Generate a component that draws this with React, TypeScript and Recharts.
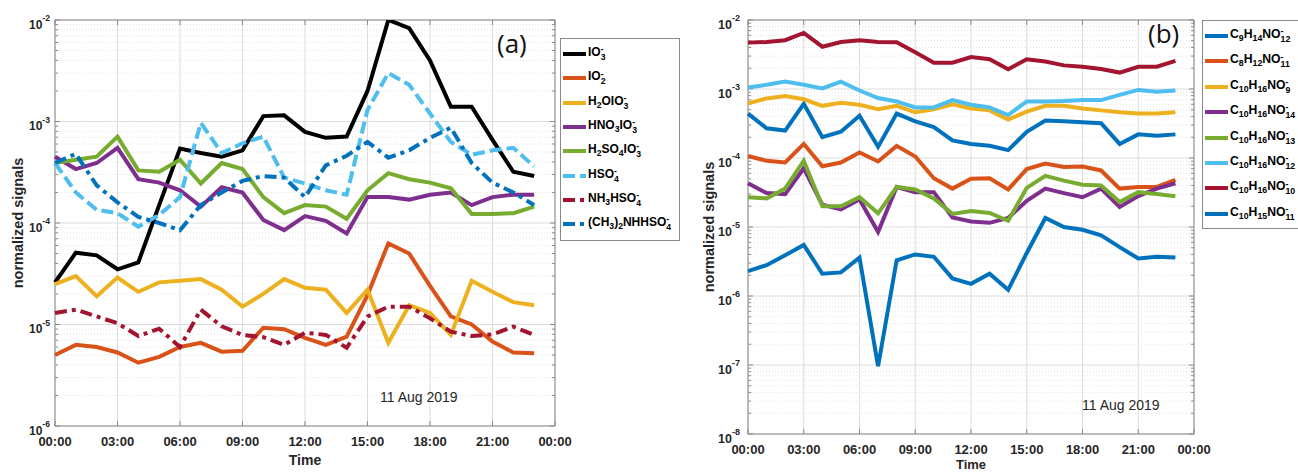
import React from "react";
import {
  LineChart,
  Line,
  XAxis,
  YAxis,
  CartesianGrid,
  ReferenceLine,
  ReferenceArea,
} from "recharts";

const hours = [0, 1, 2, 3, 4, 5, 6, 7, 8, 9, 10, 11, 12, 13, 14, 15, 16, 17, 18, 19, 20, 21, 22, 23];
const timeTicks = [0, 3, 6, 9, 12, 15, 18, 21, 24];

// panel (a)
const io3 = [2.6e-5, 5.1e-5, 4.8e-5, 3.5e-5, 4.1e-5, 1.5e-4, 5.4e-4, 4.9e-4, 4.5e-4, 5.2e-4, 1.13e-3, 1.15e-3, 7.9e-4, 6.9e-4, 7.1e-4, 2.0e-3, 1.0e-2, 8.3e-3, 4.0e-3, 1.4e-3, 1.4e-3, 6.6e-4, 3.2e-4, 2.9e-4];
const io2 = [5.0e-6, 6.3e-6, 6.0e-6, 5.3e-6, 4.2e-6, 4.8e-6, 6.0e-6, 6.6e-6, 5.4e-6, 5.5e-6, 9.3e-6, 9.0e-6, 7.4e-6, 6.3e-6, 7.6e-6, 1.95e-5, 6.3e-5, 5.0e-5, 2.4e-5, 1.2e-5, 1.0e-5, 6.8e-6, 5.3e-6, 5.2e-6];
const h2oio3 = [2.5e-5, 3.0e-5, 1.9e-5, 2.9e-5, 2.1e-5, 2.6e-5, 2.7e-5, 2.8e-5, 2.2e-5, 1.5e-5, 2.0e-5, 2.8e-5, 2.3e-5, 2.2e-5, 1.3e-5, 2.2e-5, 6.6e-6, 1.55e-5, 1.3e-5, 7.9e-6, 2.7e-5, 2.1e-5, 1.66e-5, 1.55e-5];
const hno3io3 = [4.5e-4, 3.4e-4, 3.9e-4, 5.5e-4, 2.7e-4, 2.5e-4, 2.1e-4, 1.45e-4, 2.25e-4, 2.0e-4, 1.07e-4, 8.5e-5, 1.17e-4, 1.05e-4, 7.9e-5, 1.8e-4, 1.8e-4, 1.7e-4, 1.9e-4, 2.0e-4, 1.5e-4, 1.8e-4, 1.9e-4, 1.9e-4];
const h2so4io3 = [3.9e-4, 4.2e-4, 4.5e-4, 7.1e-4, 3.3e-4, 3.2e-4, 4.2e-4, 2.45e-4, 3.9e-4, 3.4e-4, 1.8e-4, 1.25e-4, 1.5e-4, 1.45e-4, 1.1e-4, 2.1e-4, 3.1e-4, 2.7e-4, 2.5e-4, 2.2e-4, 1.23e-4, 1.23e-4, 1.25e-4, 1.45e-4];
const hso4 = [3.9e-4, 2.0e-4, 1.35e-4, 1.25e-4, 9.2e-5, 1.2e-4, 1.8e-4, 9.7e-4, 4.9e-4, 6.1e-4, 7.1e-4, 2.8e-4, 2.45e-4, 2.1e-4, 1.9e-4, 1.3e-3, 3.0e-3, 2.3e-3, 1.2e-3, 6.3e-4, 4.7e-4, 5.2e-4, 5.5e-4, 3.6e-4];
const nh3hso4 = [1.3e-5, 1.4e-5, 1.2e-5, 1.03e-5, 7.7e-6, 9.1e-6, 6.0e-6, 1.4e-5, 9.6e-6, 7.9e-6, 7.5e-6, 6.3e-6, 8.3e-6, 7.9e-6, 5.9e-6, 1.2e-5, 1.5e-5, 1.5e-5, 1.15e-5, 8.5e-6, 7.7e-6, 8.0e-6, 9.5e-6, 7.9e-6];
const dmahso4 = [3.9e-4, 4.8e-4, 2.35e-4, 1.6e-4, 1.15e-4, 1.0e-4, 8.5e-5, 1.5e-4, 2.0e-4, 2.6e-4, 2.9e-4, 2.8e-4, 1.8e-4, 3.7e-4, 4.6e-4, 6.3e-4, 4.4e-4, 5.2e-4, 6.9e-4, 8.7e-4, 3.9e-4, 2.5e-4, 2.0e-4, 1.5e-4];

// panel (b)
const c9h14no12 = [4.4e-4, 2.7e-4, 2.5e-4, 6.1e-4, 2.0e-4, 2.4e-4, 4.1e-4, 1.45e-4, 4.4e-4, 3.4e-4, 2.8e-4, 1.8e-4, 1.6e-4, 1.5e-4, 1.3e-4, 2.4e-4, 3.5e-4, 3.4e-4, 3.3e-4, 3.2e-4, 1.6e-4, 2.2e-4, 2.1e-4, 2.2e-4];
const c8h12no11 = [1.07e-4, 9.1e-5, 8.6e-5, 1.6e-4, 7.6e-5, 8.6e-5, 1.2e-4, 8.9e-5, 1.5e-4, 1.05e-4, 5.1e-5, 3.6e-5, 5.0e-5, 5.1e-5, 3.5e-5, 6.9e-5, 8.3e-5, 7.4e-5, 7.5e-5, 6.6e-5, 3.6e-5, 3.8e-5, 3.8e-5, 4.8e-5];
const c10h16no9 = [6.2e-4, 7.3e-4, 7.9e-4, 7.1e-4, 5.7e-4, 6.3e-4, 5.9e-4, 5.1e-4, 5.7e-4, 4.6e-4, 5.1e-4, 6.0e-4, 5.2e-4, 4.9e-4, 3.6e-4, 4.7e-4, 5.7e-4, 5.7e-4, 5.2e-4, 4.9e-4, 4.6e-4, 4.4e-4, 4.4e-4, 4.6e-4];
const c10h16no14 = [4.3e-5, 3.1e-5, 3.0e-5, 7.1e-5, 2.1e-5, 1.8e-5, 2.5e-5, 8.5e-6, 3.8e-5, 3.2e-5, 3.2e-5, 1.38e-5, 1.2e-5, 1.15e-5, 1.35e-5, 2.4e-5, 3.6e-5, 3.1e-5, 2.7e-5, 3.6e-5, 1.95e-5, 2.8e-5, 3.6e-5, 4.3e-5];
const c10h16no13 = [2.7e-5, 2.6e-5, 3.6e-5, 9.1e-5, 2.0e-5, 2.0e-5, 2.7e-5, 1.58e-5, 3.8e-5, 3.5e-5, 2.6e-5, 1.55e-5, 1.7e-5, 1.6e-5, 1.23e-5, 3.7e-5, 5.5e-5, 4.7e-5, 4.1e-5, 4.0e-5, 2.3e-5, 3.2e-5, 3.0e-5, 2.8e-5];
const c10h16no12 = [1.05e-3, 1.15e-3, 1.28e-3, 1.15e-3, 1.02e-3, 1.28e-3, 9.5e-4, 7.4e-4, 6.6e-4, 5.4e-4, 5.4e-4, 6.9e-4, 5.9e-4, 5.4e-4, 4.2e-4, 6.6e-4, 6.6e-4, 6.7e-4, 6.9e-4, 6.9e-4, 8.2e-4, 9.7e-4, 9.1e-4, 9.5e-4];
const c10h16no10 = [4.7e-3, 4.8e-3, 5.1e-3, 6.5e-3, 4.1e-3, 4.8e-3, 5.1e-3, 4.8e-3, 4.75e-3, 3.4e-3, 2.4e-3, 2.4e-3, 2.9e-3, 2.7e-3, 1.93e-3, 2.7e-3, 2.5e-3, 2.2e-3, 2.1e-3, 1.95e-3, 1.73e-3, 2.1e-3, 2.1e-3, 2.55e-3];
const c10h15no11 = [2.3e-6, 2.8e-6, 3.9e-6, 5.5e-6, 2.1e-6, 2.2e-6, 3.6e-6, 9.6e-8, 3.3e-6, 4.0e-6, 3.7e-6, 1.8e-6, 1.5e-6, 2.1e-6, 1.23e-6, 4.2e-6, 1.35e-5, 1.0e-5, 9.1e-6, 7.6e-6, 5.1e-6, 3.5e-6, 3.7e-6, 3.6e-6];

const decadesA = [1e-6, 1e-5, 1e-4, 1e-3, 1e-2];
const decadesB = [1e-8, 1e-7, 1e-6, 1e-5, 1e-4, 1e-3, 1e-2];

const FONT = "'Liberation Sans', Arial, Helvetica, sans-serif";
const TXT = "#262626";
const AXIS = "#8a8a8a";
const DASH = "12 5";
const DASHDOT = "12 5 4 5";

const seriesA = [
  { key: "io3", values: io3, label: "IO_3^-", color: "#000000" },
  { key: "io2", values: io2, label: "IO_2^-", color: "#D95319" },
  { key: "h2oio3", values: h2oio3, label: "H_2OIO_3^-", color: "#EDB120" },
  { key: "hno3io3", values: hno3io3, label: "HNO_3IO_3^-", color: "#7E2F8E" },
  { key: "h2so4io3", values: h2so4io3, label: "H_2SO_4IO_3^-", color: "#77AC30" },
  { key: "hso4", values: hso4, label: "HSO_4^-", color: "#4DBEEE", dash: DASH },
  { key: "nh3hso4", values: nh3hso4, label: "NH_3HSO_4^-", color: "#A2142F", dash: DASHDOT },
  { key: "dmahso4", values: dmahso4, label: "(CH_3)_2NHHSO_4^-", color: "#0072BD", dash: DASHDOT },
];

const seriesB = [
  { key: "c9h14no12", values: c9h14no12, label: "C_9H_{14}NO_{12}^-", color: "#0072BD" },
  { key: "c8h12no11", values: c8h12no11, label: "C_8H_{12}NO_{11}^-", color: "#D95319" },
  { key: "c10h16no9", values: c10h16no9, label: "C_{10}H_{16}NO_9^-", color: "#EDB120" },
  { key: "c10h16no14", values: c10h16no14, label: "C_{10}H_{16}NO_{14}^-", color: "#7E2F8E" },
  { key: "c10h16no13", values: c10h16no13, label: "C_{10}H_{16}NO_{13}^-", color: "#77AC30" },
  { key: "c10h16no12", values: c10h16no12, label: "C_{10}H_{16}NO_{12}^-", color: "#4DBEEE" },
  { key: "c10h16no10", values: c10h16no10, label: "C_{10}H_{16}NO_{10}^-", color: "#A2142F" },
  { key: "c10h15no11", values: c10h15no11, label: "C_{10}H_{15}NO_{11}^-", color: "#0072BD" },
];

type Series = { key: string; values: number[]; label: string; color: string; dash?: string };

function buildRows(series: Series[]) {
  return hours.map((h, i) => {
    const row: Record<string, number> = { h };
    series.forEach((s) => (row[s.key] = s.values[i]));
    return row;
  });
}

const minorOf = (decades: number[]) =>
  decades.slice(0, -1).flatMap((d) => [2, 3, 4, 5, 6, 7, 8, 9].map((m) => m * d));

const fmtTime = (h: number) => String(h % 24).padStart(2, "0") + ":00";

// tex-like label: "IO_3^-" -> IO with stacked sub 3 / sup -
type Seg = { t?: string; sub?: string; sup?: string };
function parseTex(s: string): Seg[] {
  const out: Seg[] = [];
  let i = 0;
  let buf = "";
  const arg = () => {
    if (s[i] === "{") {
      const j = s.indexOf("}", i);
      const a = s.slice(i + 1, j);
      i = j + 1;
      return a;
    }
    return s[i++];
  };
  while (i < s.length) {
    const c = s[i];
    if (c === "_" || c === "^") {
      if (buf) out.push({ t: buf });
      buf = "";
      i++;
      const seg: Seg = {};
      if (c === "_") seg.sub = arg();
      else seg.sup = arg();
      if (c === "_" && s[i] === "^") {
        i++;
        seg.sup = arg();
      } else if (c === "^" && s[i] === "_") {
        i++;
        seg.sub = arg();
      }
      out.push(seg);
    } else {
      buf += c;
      i++;
    }
  }
  if (buf) out.push({ t: buf });
  return out;
}

function Tex({ s }: { s: string }) {
  return (
    <>
      {parseTex(s).map((seg, i) => {
        if (seg.t) return <span key={i}>{seg.t}</span>;
        if (seg.sub && seg.sup)
          return (
            <span
              key={i}
              style={{
                display: "inline-flex",
                flexDirection: "column",
                fontSize: "0.72em",
                lineHeight: "0.9em",
                verticalAlign: "0.45em",
              }}
            >
              <span>{seg.sup}</span>
              <span>{seg.sub}</span>
            </span>
          );
        if (seg.sub)
          return (
            <span key={i} style={{ fontSize: "0.72em", verticalAlign: "-0.35em" }}>
              {seg.sub}
            </span>
          );
        return (
          <span key={i} style={{ fontSize: "0.72em", verticalAlign: "0.55em" }}>
            {seg.sup}
          </span>
        );
      })}
    </>
  );
}

const YTick = (props: any) => {
  const { x, y, payload, fs } = props;
  const e = Math.round(Math.log10(payload.value));
  return (
    <text x={x} y={y} textAnchor="end" fontFamily={FONT} fontWeight="bold" fill={TXT} fontSize={fs}>
      <tspan dy={8.5}>10</tspan>
      <tspan dy={-7.5} fontSize={fs * 0.72}>
        {e}
      </tspan>
    </text>
  );
};

const XTick = (props: any) => {
  const { x, y, payload, dy, fs } = props;
  return (
    <text x={x} y={y + dy} textAnchor="middle" fontFamily={FONT} fontWeight="bold" fill={TXT} fontSize={fs}>
      {fmtTime(payload.value)}
    </text>
  );
};

function Panel({
  series,
  decades,
  width,
  xAxisH,
  yAxisW,
  right,
  yFs,
  xFs,
  xDy,
  yTickGap,
  yTitleOffset,
  timeOffset,
  timeFs,
  pxHour,
  pxDecade,
}: {
  series: Series[];
  decades: number[];
  width: number;
  xAxisH: number;
  yAxisW: number;
  right: number;
  yFs: number;
  xFs: number;
  xDy: number;
  yTickGap: number;
  yTitleOffset: number;
  timeOffset: number;
  timeFs: number;
  pxHour: number;
  pxDecade: number;
}) {
  const rows = buildRows(series);
  const lo = decades[0];
  const hi = decades[decades.length - 1];
  const minor = minorOf(decades);
  // inward tick marks (box on, MATLAB style)
  const hLen = (px: number) => px / pxHour;
  const vFac = (px: number) => Math.pow(10, px / pxDecade);
  const yMarks = [
    ...decades.map((v) => ({ v, len: 5 })),
    ...minor.map((v) => ({ v, len: 3 })),
  ];
  return (
    <LineChart width={width} height={472} data={rows} margin={{ top: 20, right, bottom: 0, left: 0 }}>
      <CartesianGrid stroke="#dcdcdc" strokeWidth={1} />
      {minor.map((v) => (
        <ReferenceLine key={v} y={v} stroke="#e4e4e4" strokeDasharray="1 2" />
      ))}
      <XAxis
        dataKey="h"
        type="number"
        domain={[0, 24]}
        ticks={timeTicks}
        height={xAxisH}
        axisLine={false}
        tickLine={false}
        tick={<XTick dy={xDy} fs={xFs} />}
        label={{
          value: "Time",
          position: "insideBottom",
          offset: timeOffset,
          fontFamily: FONT,
          fontWeight: "bold",
          fontSize: timeFs,
          fill: TXT,
        }}
      />
      <YAxis
        scale="log"
        type="number"
        domain={[lo, hi]}
        ticks={decades}
        allowDataOverflow
        width={yAxisW}
        axisLine={false}
        tickLine={false}
        tickSize={yTickGap}
        tickMargin={0}
        tick={<YTick fs={yFs} />}
        label={{
          value: "normalized signals",
          angle: -90,
          position: "insideLeft",
          offset: yTitleOffset,
          fontFamily: FONT,
          fontWeight: "bold",
          fontSize: 14.5,
          fill: TXT,
          style: { textAnchor: "middle" },
        }}
      />
      {yMarks.map(({ v, len }) => (
        <ReferenceLine
          key={"l" + v}
          segment={[
            { x: 0, y: v },
            { x: hLen(len), y: v },
          ]}
          stroke={AXIS}
        />
      ))}
      {yMarks.map(({ v, len }) => (
        <ReferenceLine
          key={"r" + v}
          segment={[
            { x: 24 - hLen(len), y: v },
            { x: 24, y: v },
          ]}
          stroke={AXIS}
        />
      ))}
      {timeTicks.map((t) => (
        <ReferenceLine
          key={"b" + t}
          segment={[
            { x: t, y: lo },
            { x: t, y: lo * vFac(5) },
          ]}
          stroke={AXIS}
        />
      ))}
      {timeTicks.map((t) => (
        <ReferenceLine
          key={"t" + t}
          segment={[
            { x: t, y: hi / vFac(5) },
            { x: t, y: hi },
          ]}
          stroke={AXIS}
        />
      ))}
      <ReferenceArea x1={0} x2={24} y1={lo} y2={hi} fill="none" stroke={AXIS} strokeWidth={1} />
      {series.map((s) => (
        <Line
          key={s.key}
          type="linear"
          dataKey={s.key}
          stroke={s.color}
          strokeWidth={4}
          strokeDasharray={s.dash}
          dot={false}
          activeDot={false}
          isAnimationActive={false}
        />
      ))}
    </LineChart>
  );
}

function LegendBox({
  series,
  left,
  top,
  width,
  height,
  rowTop,
  rowH,
  fs,
}: {
  series: Series[];
  left: number;
  top: number;
  width: number;
  height: number;
  rowTop: number;
  rowH: number;
  fs: number;
}) {
  return (
    <div
      style={{
        position: "absolute",
        left,
        top,
        width,
        height,
        border: "1px solid " + AXIS,
        background: "#fff",
        boxSizing: "border-box",
        fontFamily: FONT,
        fontWeight: "bold",
        fontSize: fs,
        color: "#000",
      }}
    >
      {series.map((s, i) => (
        <div
          key={s.key}
          style={{
            position: "absolute",
            left: 2,
            top: rowTop + i * rowH - 10,
            height: 20,
            display: "flex",
            alignItems: "center",
            whiteSpace: "nowrap",
          }}
        >
          <svg width={23} height={6} style={{ marginRight: 2, flex: "none" }}>
            <line x1={0} y1={3} x2={23} y2={3} stroke={s.color} strokeWidth={4} strokeDasharray={s.dash} />
          </svg>
          <span style={{ lineHeight: 1 }}>
            <Tex s={s.label} />
          </span>
        </div>
      ))}
    </div>
  );
}

const note = (left: number, top: number, text: string, style: React.CSSProperties) => (
  <div style={{ position: "absolute", left, top, whiteSpace: "nowrap", lineHeight: 1, ...style }}>{text}</div>
);

export default function App() {
  return (
    <div style={{ position: "absolute", left: 0, top: 0, width: 1298, height: 472, background: "#fff", overflow: "hidden" }}>
      <div style={{ position: "absolute", left: 0, top: 0 }}>
        <Panel
          series={seriesA}
          decades={decadesA}
          width={580}
          xAxisH={46}
          yAxisW={55}
          right={25}
          yFs={12}
          xFs={13}
          xDy={12}
          yTickGap={5}
          yTitleOffset={18}
          timeOffset={7}
          timeFs={14}
          pxHour={500 / 24}
          pxDecade={406 / 4}
        />
      </div>
      <div style={{ position: "absolute", left: 690, top: 0 }}>
        <Panel
          series={seriesB}
          decades={decadesB}
          width={530}
          xAxisH={38}
          yAxisW={58}
          right={26}
          yFs={12.5}
          xFs={13}
          xDy={12}
          yTickGap={8}
          yTitleOffset={19}
          timeOffset={3}
          timeFs={13}
          pxHour={446 / 24}
          pxDecade={414 / 6}
        />
      </div>
      <LegendBox series={seriesA} left={560} top={38} width={120} height={203} rowTop={15} rowH={24.3} fs={12} />
      <LegendBox series={seriesB} left={1202} top={20} width={110} height={209} rowTop={15} rowH={25.4} fs={12.2} />
      {note(497, 30, "(a)", { fontFamily: "'Open Sans', 'Noto Sans', sans-serif", fontSize: 26, color: "#111" })}
      {note(1148, 20, "(b)", { fontFamily: "'Open Sans', 'Noto Sans', sans-serif", fontSize: 26, color: "#111" })}
      {note(380, 390, "11 Aug 2019", { fontFamily: FONT, fontSize: 14, color: TXT })}
      {note(1082, 398, "11 Aug 2019", { fontFamily: FONT, fontSize: 14, color: TXT })}
    </div>
  );
}
